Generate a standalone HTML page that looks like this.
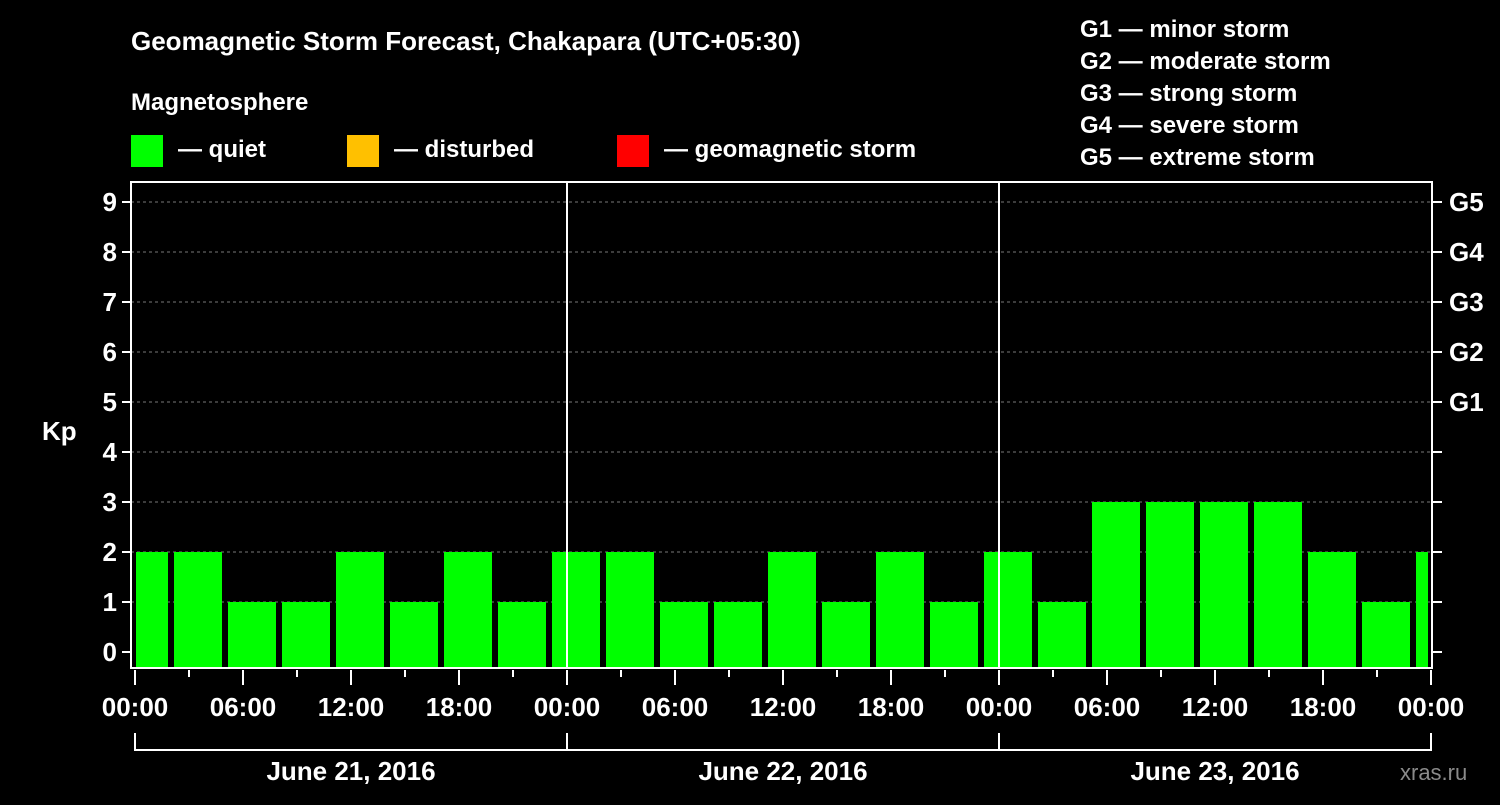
<!DOCTYPE html>
<html><head><meta charset="utf-8"><style>
body{margin:0;background:#000;}
svg text{font-family:"Liberation Sans",Arial,sans-serif;font-weight:bold;fill:#fff;}
</style></head><body>
<svg width="1500" height="800" viewBox="0 0 1500 800">
<rect width="1500" height="800" fill="#000"/>
<text x="131" y="50" font-size="26">Geomagnetic Storm Forecast, Chakapara (UTC+05:30)</text>
<text x="131" y="110" font-size="24">Magnetosphere</text>
<rect x="131" y="135" width="32" height="32" fill="#00ff00"/>
<text x="178" y="157" font-size="24">— quiet</text>
<rect x="347" y="135" width="32" height="32" fill="#ffc000"/>
<text x="394" y="157" font-size="24">— disturbed</text>
<rect x="617" y="135" width="32" height="32" fill="#ff0000"/>
<text x="664" y="157" font-size="24">— geomagnetic storm</text>
<g font-size="24">
<text x="1080" y="37">G1 — minor storm</text>
<text x="1080" y="69">G2 — moderate storm</text>
<text x="1080" y="101">G3 — strong storm</text>
<text x="1080" y="133">G4 — severe storm</text>
<text x="1080" y="165">G5 — extreme storm</text>
</g>
<text x="42" y="440" font-size="26">Kp</text>
<text x="1400" y="780" font-size="22" fill="#888" style="fill:#8a8a8a;font-weight:normal">xras.ru</text>
<defs><clipPath id="pc"><rect x="136" y="182" width="1292" height="486"/></clipPath></defs>
<g id="grid"></g>
<g id="bars" clip-path="url(#pc)"></g>
<g id="axes"></g>
</svg>
<script>
const kpValues=[2,2,1,1,2,1,2,1,2,2,1,1,2,1,2,1,2,1,3,3,3,3,2,1,2];
const yTicks=[0,1,2,3,4,5,6,7,8,9];
const gLabels=["G1","G2","G3","G4","G5"];
const timeLabels=["00:00","06:00","12:00","18:00","00:00","06:00","12:00","18:00","00:00","06:00","12:00","18:00","00:00"];
const dayLabels=["June 21, 2016","June 22, 2016","June 23, 2016"];
const NS="http://www.w3.org/2000/svg";
const X0=135,HOUR=18,Y0=652,UNIT=50,TOP=182,BOT=668,LEFT=131,RIGHT=1432;
const xs=h=>X0+h*HOUR, ys=v=>Y0-v*UNIT;
function mk(tag,attrs,parent,txt){const e=document.createElementNS(NS,tag);for(const k in attrs)e.setAttribute(k,attrs[k]);if(txt!==undefined)e.textContent=txt;parent.appendChild(e);return e;}
const grid=document.getElementById('grid'),bars=document.getElementById('bars'),axes=document.getElementById('axes');
yTicks.forEach(v=>{
 if(v>0){const l=mk('line',{x1:LEFT,x2:RIGHT,y1:ys(v),y2:ys(v),stroke:'#777','stroke-dasharray':'3,3','stroke-width':1},grid);
 
 }
 const t=mk('line',{x1:LEFT-9,x2:LEFT,y1:ys(v),y2:ys(v),stroke:'#fff','stroke-width':2},axes);
 
 
 const r=mk('line',{x1:RIGHT,x2:RIGHT+10,y1:ys(v),y2:ys(v),stroke:'#fff','stroke-width':2},axes);
 
 
 const lb=mk('text',{x:LEFT-14,y:ys(v)+9,'font-size':26,'text-anchor':'end'},axes,String(v));
 
 
});
gLabels.forEach((g,i)=>{
 const lb=mk('text',{x:RIGHT+17,y:ys(5+i)+9,'font-size':26},axes,g);
 
 
});
kpValues.forEach((v,i)=>{
 const start=(i-1)*3+2;
 const b=mk('rect',{x:xs(start)+3,y:ys(v),width:3*HOUR-6,height:BOT-ys(v),fill:'#00ff00'},bars);
 
 
});
const fr=mk('rect',{x:LEFT,y:TOP,width:RIGHT-LEFT,height:BOT-TOP,fill:'none',stroke:'#fff','stroke-width':2},axes);


for(let d=1;d<3;d++){const l=mk('line',{x1:xs(24*d),x2:xs(24*d),y1:TOP,y2:BOT,stroke:'#fff','stroke-width':2},axes);
 
 }
for(let h=0;h<=72;h+=3){const major=h%6===0;
 const t=mk('line',{x1:xs(h),x2:xs(h),y1:BOT+2,y2:BOT+(major?17:9),stroke:'#fff','stroke-width':2},axes);
 
 }
timeLabels.forEach((s,i)=>{
 const t=mk('text',{x:xs(i*6),y:716,'font-size':26,'text-anchor':'middle'},axes,s);
 
 });
mk('path',{d:`M${xs(0)} 733V750H${xs(72)}V733`,fill:'none',stroke:'#fff','stroke-width':2},axes);
dayLabels.forEach((s,i)=>{
 const v=mk('line',{x1:xs(24*i),x2:xs(24*i),y1:733,y2:750,stroke:'#fff','stroke-width':2},axes);
 
 
 const t=mk('text',{x:xs(24*i+12),y:780,'font-size':26,'text-anchor':'middle'},axes,s);
 
 });
</script>
</body></html>
